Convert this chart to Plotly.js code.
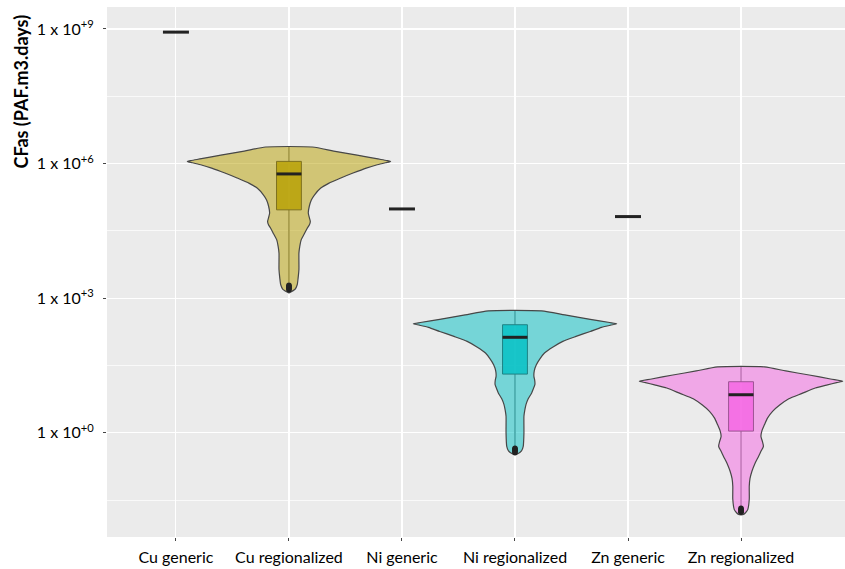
<!DOCTYPE html>
<html>
<head>
<meta charset="utf-8">
<script src="https://cdn.plot.ly/plotly-3.0.1.min.js"></script>
<style>
  html, body { margin: 0; padding: 0; background: #ffffff; }
  #chart { width: 845px; height: 569px; }
</style>
</head>
<body>
<div id="chart"></div>
<script>
// Category labels along the x axis
const categories = ["Cu generic", "Cu regionalized", "Ni generic", "Ni regionalized", "Zn generic", "Zn regionalized"];

// Generic characterisation factors (single value per metal), log10 units
const genericLog10 = [8.93, 4.99, 4.82];

// Violin profiles: log10(CF) from max to min, with relative density (max = 1)
const cuLog10   = [6.37, 6.28, 6.19, 6.11, 6.07, 6.05, 6.02, 5.97, 5.90, 5.79, 5.68, 5.56, 5.45, 5.30, 5.19, 5.05, 4.90, 4.80, 4.71, 4.63, 4.56, 4.43, 4.30, 4.15, 4.01, 3.80, 3.64, 3.45, 3.30, 3.20, 3.12];
const cuDensity = [0.23, 0.44, 0.67, 0.86, 0.96, 1.00, 0.95, 0.86, 0.76, 0.63, 0.51, 0.39, 0.31, 0.25, 0.22, 0.20, 0.19, 0.20, 0.21, 0.20, 0.18, 0.15, 0.12, 0.106, 0.098, 0.098, 0.098, 0.09, 0.081, 0.06, 0.0];

const niLog10   = [2.72, 2.63, 2.53, 2.46, 2.43, 2.40, 2.35, 2.26, 2.15, 2.04, 1.91, 1.78, 1.65, 1.52, 1.39, 1.26, 1.17, 1.08, 0.98, 0.89, 0.76, 0.63, 0.50, 0.37, 0.00, -0.30, -0.40, -0.46, -0.48];
const niDensity = [0.26, 0.49, 0.74, 0.93, 1.00, 0.94, 0.85, 0.74, 0.60, 0.47, 0.37, 0.29, 0.245, 0.21, 0.19, 0.186, 0.194, 0.196, 0.18, 0.164, 0.13, 0.108, 0.096, 0.088, 0.088, 0.081, 0.064, 0.032, 0.0];

const znLog10   = [1.47, 1.38, 1.29, 1.20, 1.15, 1.12, 1.07, 1.00, 0.88, 0.76, 0.62, 0.48, 0.33, 0.18, 0.05, -0.08, -0.19, -0.30, -0.41, -0.52, -0.68, -0.85, -1.02, -1.19, -1.48, -1.71, -1.78, -1.82, -1.83];
const znDensity = [0.23, 0.44, 0.67, 0.88, 1.00, 0.94, 0.85, 0.73, 0.60, 0.47, 0.38, 0.31, 0.26, 0.23, 0.206, 0.196, 0.21, 0.22, 0.196, 0.173, 0.137, 0.108, 0.088, 0.081, 0.081, 0.066, 0.044, 0.023, 0.0];

// Box statistics (log10): [lower whisker, q1, median, q3, upper whisker]
const cuBox = [3.35, 4.97, 5.77, 6.05, 6.37];
const niBox = [-0.30, 1.31, 2.13, 2.41, 2.72];
const znBox = [-1.64, 0.04, 0.85, 1.14, 1.47];

// Outlying points below the lower whisker (log10)
const cuOutliers = [3.19, 3.21, 3.23, 3.25, 3.27, 3.29];
const niOutliers = [-0.34, -0.36, -0.38, -0.40, -0.42, -0.44];
const znOutliers = [-1.68, -1.70, -1.72, -1.74, -1.76, -1.77];

// Y tick positions (log10) and their labels
const yTickLog10 = [0, 3, 6, 9];
const yTickText = ["1 x 10<sup>+0</sup>", "1 x 10<sup>+3</sup>", "1 x 10<sup>+6</sup>", "1 x 10<sup>+9</sup>"];
const yMinorLog10 = [-1.5, 1.5, 4.5, 7.5];

const pow10 = v => Math.pow(10, v);

const VIOLIN_HALF = 0.9;   // half-width of the widest violin section, in category units
const BOX_WIDTH = 0.22;

const groups = [
  { pos: 1, logY: cuLog10, dens: cuDensity, box: cuBox, out: cuOutliers,
    violinFill: "rgba(183,159,0,0.5)", boxFill: "rgba(183,159,0,0.8)" },
  { pos: 3, logY: niLog10, dens: niDensity, box: niBox, out: niOutliers,
    violinFill: "rgba(0,191,196,0.5)", boxFill: "rgba(0,191,196,0.8)" },
  { pos: 5, logY: znLog10, dens: znDensity, box: znBox, out: znOutliers,
    violinFill: "rgba(245,100,227,0.5)", boxFill: "rgba(245,100,227,0.8)" }
];

const traces = [];

groups.forEach(g => {
  // violin outline: right side top->bottom, then left side bottom->top, closed
  const xs = [], ys = [];
  g.logY.forEach((v, i) => { xs.push(g.pos + g.dens[i] * VIOLIN_HALF); ys.push(pow10(v)); });
  for (let i = g.logY.length - 1; i >= 0; i--) { xs.push(g.pos - g.dens[i] * VIOLIN_HALF); ys.push(pow10(g.logY[i])); }
  xs.push(xs[0]); ys.push(ys[0]);
  traces.push({
    type: "scatter", mode: "lines", x: xs, y: ys, fill: "toself",
    fillcolor: g.violinFill,
    line: { color: "#474747", width: 1.2, shape: "spline", smoothing: 0.6 },
    hoverinfo: "skip", showlegend: false
  });
});

groups.forEach(g => {
  traces.push({
    type: "box", x: [g.pos],
    lowerfence: [pow10(g.box[0])], q1: [pow10(g.box[1])], median: [pow10(g.box[2])],
    q3: [pow10(g.box[3])], upperfence: [pow10(g.box[4])],
    width: BOX_WIDTH, whiskerwidth: 0, boxpoints: false,
    fillcolor: g.boxFill, line: { color: "#333333", width: 0.9 },
    hoverinfo: "skip", showlegend: false
  });
  traces.push({
    type: "scatter", mode: "markers", x: g.out.map(() => g.pos), y: g.out.map(pow10),
    marker: { color: "#222222", size: 5.5 }, hoverinfo: "skip", showlegend: false
  });
  traces.push({
    type: "scatter", mode: "lines",
    x: [g.pos - BOX_WIDTH / 2, g.pos + BOX_WIDTH / 2], y: [pow10(g.box[2]), pow10(g.box[2])],
    line: { color: "#222222", width: 3 }, hoverinfo: "skip", showlegend: false
  });
});

// generic factors: a single value drawn as a flat median bar
[0, 2, 4].forEach((pos, k) => {
  const v = pow10(genericLog10[k]);
  traces.push({
    type: "scatter", mode: "lines",
    x: [pos - 0.115, pos + 0.115], y: [v, v],
    line: { color: "#222222", width: 3 }, hoverinfo: "skip", showlegend: false
  });
});

const layout = {
  width: 845, height: 569,
  margin: { l: 107, r: 0, t: 7, b: 32 },
  paper_bgcolor: "#ffffff",
  plot_bgcolor: "#EBEBEB",
  font: { family: "Lato, 'Open Sans', sans-serif", color: "#000000", size: 16 },
  showlegend: false,
  xaxis: {
    range: [-0.61, 5.92],
    tickmode: "array", tickvals: [0, 1, 2, 3, 4, 5], ticktext: categories,
    showgrid: true, gridcolor: "#ffffff", gridwidth: 1.1,
    zeroline: false, showline: false,
    ticks: "outside", ticklen: 3, tickcolor: "#444444", tickwidth: 1,
    ticklabelstandoff: 3,
    tickfont: { size: 16, color: "#000000" }
  },
  yaxis: {
    type: "log",
    range: [-2.32, 9.49],
    tickmode: "array", tickvals: yTickLog10.map(pow10), ticktext: yTickText,
    showgrid: true, gridcolor: "#ffffff", gridwidth: 1.1,
    zeroline: false, showline: false,
    ticks: "outside", ticklen: 3, tickcolor: "#444444", tickwidth: 1,
    ticklabelstandoff: 6,
    tickfont: { size: 16, color: "#000000" },
    minor: { tickmode: "array", tickvals: yMinorLog10.map(pow10), showgrid: true,
             gridcolor: "#ffffff", gridwidth: 0.7, ticks: "" }
  },
  annotations: [{
    text: "<b>CFas (PAF.m3.days)</b>",
    xref: "paper", yref: "paper", x: -0.117, y: 0.84,
    xanchor: "center", yanchor: "middle", textangle: -90, showarrow: false,
    font: { size: 18, color: "#000000" }
  }]
};

Plotly.newPlot("chart", traces, layout, { staticPlot: true, displayModeBar: false });
</script>
</body>
</html>
